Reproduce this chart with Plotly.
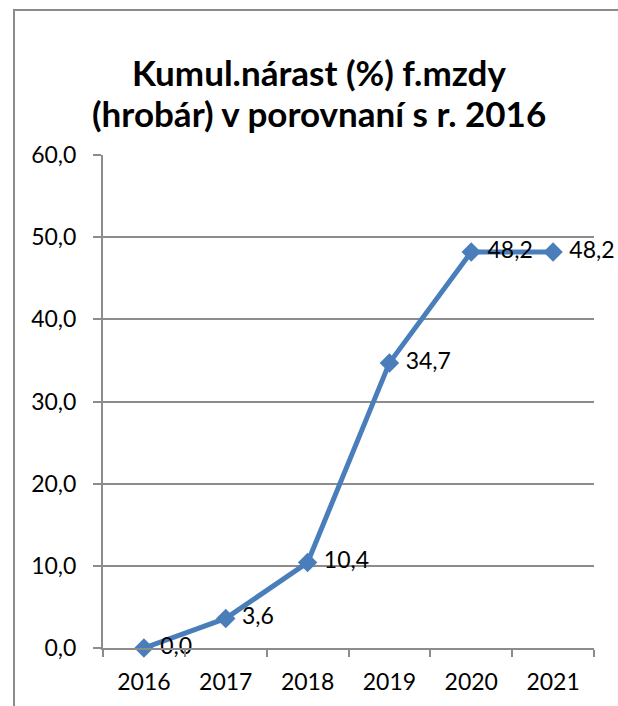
import plotly.graph_objects as go

years = ["2016", "2017", "2018", "2019", "2020", "2021"]
values = [0.0, 3.6, 10.4, 34.7, 48.2, 48.2]
y_ticks = [0, 10, 20, 30, 40, 50, 60]
title_line1 = "Kumul.nárast (%) f.mzdy"
title_line2 = "(hrobár) v porovnaní s r. 2016"

W, H = 618, 706
L, R, T, B = 103, 24, 155, 58
pw, ph = W - L - R, H - T - B

FONT = "Lato"
GRID = "#8C8C8C"
LINE = "#4A7EBB"

fig = go.Figure()
fig.add_trace(go.Scatter(
    x=years, y=values,
    mode="lines+markers+text",
    line=dict(color=LINE, width=5),
    marker=dict(symbol="diamond", size=15, color=LINE),
    texttemplate=" %{y:.1f}",
    textposition="middle right",
    textfont=dict(family=FONT, size=23, color="black"),
    cliponaxis=False,
    showlegend=False,
    hoverinfo="skip",
))

# outer chart border (px -> paper)
def px_x(v):
    return (v - L) / pw

def px_y(v):
    return (H - B - v) / ph

fig.add_shape(type="rect", xref="paper", yref="paper",
              x0=px_x(14), x1=px_x(630), y0=px_y(720), y1=px_y(10),
              line=dict(color=GRID, width=2), fillcolor="rgba(0,0,0,0)", layer="below")

for txt, yc in [(title_line1, 72), (title_line2, 113)]:
    fig.add_annotation(text="<b>" + txt + "</b>", xref="paper", yref="paper",
                       x=px_x(319), y=px_y(yc), xanchor="center", yanchor="middle",
                       showarrow=False, font=dict(family=FONT, size=35, color="black"))

fig.update_layout(
    width=W, height=H,
    margin=dict(l=L, r=R, t=T, b=B),
    paper_bgcolor="white", plot_bgcolor="white",
    separators=", ",
    font=dict(family=FONT, size=23, color="black"),
    xaxis=dict(type="category", range=[-0.5, 5.5], showline=True, linecolor=GRID, linewidth=2,
               ticks="outside", tickson="boundaries", ticklen=7, tickwidth=2, tickcolor=GRID,
               ticklabelstandoff=12,
               showgrid=False, tickfont=dict(family=FONT, size=23, color="black"), fixedrange=True),
    yaxis=dict(range=[0, 60], tickvals=y_ticks, tickformat=".1f", showline=True, linecolor=GRID,
               linewidth=2, ticks="outside", ticklen=8, tickwidth=2, tickcolor=GRID,
               ticklabelstandoff=12,
               showgrid=True, gridcolor=GRID, gridwidth=2, zeroline=False,
               tickfont=dict(family=FONT, size=23, color="black"), fixedrange=True),
)

fig.write_html("out.html", config={"displayModeBar": False},
               post_script="document.body.style.margin='0';document.body.style.overflow='hidden';")
